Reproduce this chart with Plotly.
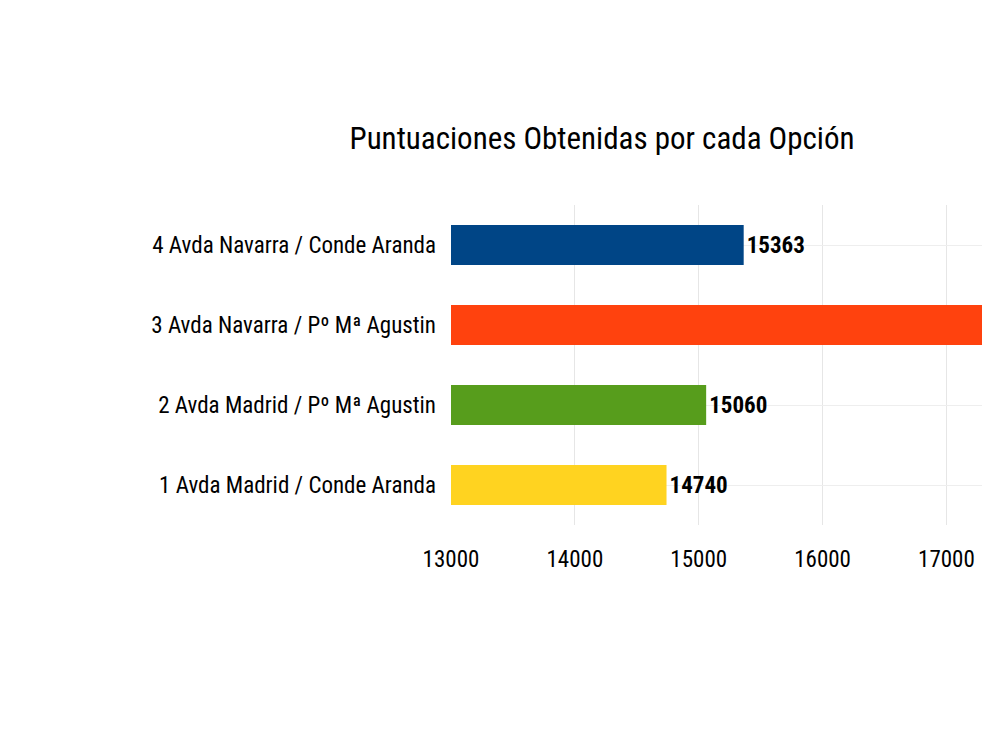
import plotly.graph_objects as go

categories = [
    "1 Avda Madrid / Conde Aranda",
    "2 Avda Madrid / Pº Mª Agustin",
    "3 Avda Navarra / Pº Mª Agustin",
    "4 Avda Navarra / Conde Aranda",
]
scores = [14740, 15060, 17800, 15363]
colors = ["#ffd320", "#579d1c", "#ff420e", "#004586"]
x_max = 17400

FONT = "Liberation Sans Narrow, Roboto Condensed, Liberation Sans, sans-serif"

# the bar running past the visible range has its label clipped in the original
labels = [str(v) if v < x_max else "" for v in scores]

fig = go.Figure(
    go.Bar(
        y=categories,
        x=scores,
        orientation="h",
        marker=dict(color=colors, line=dict(width=0)),
        width=0.5,
        text=labels,
        textposition="outside",
        textfont=dict(family=FONT, size=23, color="#000000", weight="bold"),
        cliponaxis=True,
    )
)

fig.update_layout(
    width=990,
    height=742,
    paper_bgcolor="white",
    plot_bgcolor="white",
    showlegend=False,
    margin=dict(l=443, r=2, t=197, b=225),
    title=dict(
        text="Puntuaciones Obtenidas por cada Opción",
        x=0.6,
        xanchor="center",
        y=0.825,
        yanchor="middle",
        font=dict(family=FONT, size=31, color="#000000"),
    ),
    font=dict(family=FONT, size=23, color="#000000"),
)
fig.update_xaxes(
    range=[13000, x_max],
    tickvals=[13000, 14000, 15000, 16000, 17000],
    tickformat="d",
    showgrid=True,
    gridcolor="#e6e6e6",
    zeroline=False,
    ticks="",
    ticklabelstandoff=18,
    showline=False,
    automargin=False,
)
fig.update_yaxes(
    categoryorder="array",
    categoryarray=categories,
    showgrid=True,
    gridcolor="#eeeeee",
    ticks="",
    ticklabelstandoff=14,
    showline=False,
    automargin=False,
)

fig.write_html("out.html")
